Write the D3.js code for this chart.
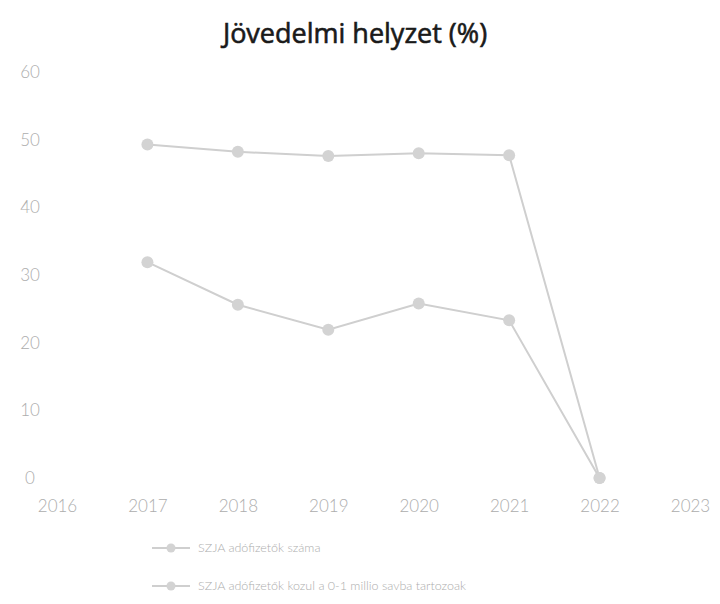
<!DOCTYPE html>
<html>
<head>
<meta charset="utf-8">
<script src="https://cdn.jsdelivr.net/npm/d3@7"></script>
<style>
  body { margin: 0; background: #fff; }
  svg { display: block; }
</style>
</head>
<body>
<svg id="chart"></svg>
<script>
// data
const years = [2017, 2018, 2019, 2020, 2021, 2022];
const adofizetok = [49.3, 48.2, 47.6, 48.0, 47.7, 0];
const savba01 = [31.9, 25.6, 21.9, 25.8, 23.3, 0];
const seriesNames = ['SZJA adófizetők száma', 'SZJA adófizetők kozul a 0-1 millio savba tartozoak'];
const yTicks = [0, 10, 20, 30, 40, 50, 60];
const xTicks = [2016, 2017, 2018, 2019, 2020, 2021, 2022, 2023];

const width = 720, height = 604;
const lineColor = '#cfcfcf';
const dotColor = '#d3d3d3';
const tickColor = '#adadad';

const svg = d3.select('#chart').attr('width', width).attr('height', height);

const xScale = d3.scaleLinear().domain([2016, 2023]).range([57, 690]);
const yScale = d3.scaleLinear().domain([0, 60]).range([478, 72]);

// title, a bit heavier than regular
svg.append('text')
   .attr('x', 355).attr('y', 43)
   .attr('text-anchor', 'middle')
   .style('font-family', 'Open Sans, sans-serif')
   .style('font-size', '27px')
   .style('fill', '#1a1a1a')
   .style('stroke', '#1a1a1a')
   .style('stroke-width', 0.6)
   .text('Jövedelmi helyzet (%)');

// y axis: labels only
const yAxis = d3.axisLeft(yScale).tickValues(yTicks).tickSize(0).tickPadding(0);
const gy = svg.append('g').attr('transform', 'translate(30,0)').call(yAxis);
gy.select('.domain').remove();
gy.selectAll('text')
  .attr('text-anchor', 'middle')
  .style('font-family', 'Lato, sans-serif')
  .style('font-weight', 300)
  .style('font-size', '17px')
  .style('fill', tickColor);

// x axis: labels only
const xAxis = d3.axisBottom(xScale).tickValues(xTicks).tickFormat(d3.format('d')).tickSize(0).tickPadding(0);
const gx = svg.append('g').attr('transform', 'translate(0,500)').call(xAxis);
gx.select('.domain').remove();
gx.selectAll('text')
  .style('font-family', 'Lato, sans-serif')
  .style('font-weight', 300)
  .style('font-size', '17px')
  .style('fill', tickColor);

const line = d3.line().x((d, i) => xScale(years[i])).y(d => yScale(d));

[adofizetok, savba01].forEach(vals => {
  svg.append('path')
     .datum(vals)
     .attr('d', line)
     .attr('fill', 'none')
     .attr('stroke', lineColor)
     .attr('stroke-width', 2);
  svg.selectAll(null)
     .data(vals)
     .enter()
     .append('circle')
     .attr('cx', (d, i) => xScale(years[i]))
     .attr('cy', d => yScale(d))
     .attr('r', 6)
     .attr('fill', dotColor);
});

// legend
const legend = svg.append('g');
seriesNames.forEach((name, i) => {
  const ly = 548 + i * 38;
  legend.append('line')
        .attr('x1', 152).attr('x2', 190).attr('y1', ly).attr('y2', ly)
        .attr('stroke', lineColor).attr('stroke-width', 2);
  legend.append('circle')
        .attr('cx', 171).attr('cy', ly).attr('r', 4.5).attr('fill', dotColor);
  legend.append('text')
        .attr('x', 198).attr('y', ly + 4)
        .style('font-family', 'Lato, sans-serif')
        .style('font-weight', 300)
        .style('font-size', '12.5px')
        .style('fill', tickColor)
        .text(name);
});
</script>
</body>
</html>
